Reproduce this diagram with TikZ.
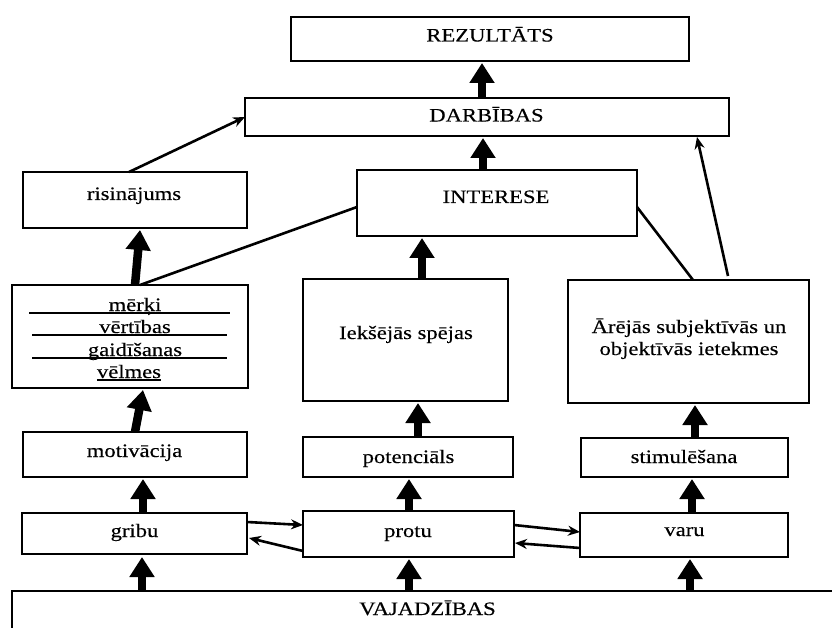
\documentclass[tikz,border=0pt]{standalone}
\usepackage{fontspec}
\setmainfont{Liberation Serif}[FakeStretch=1.19,FakeBold=0.3]
\usetikzlibrary{arrows.meta}
\begin{document}
\begin{tikzpicture}[x=1pt,y=-1pt,
  box/.style={draw, line width=2.6pt, inner sep=0pt, outer sep=0pt},
  lbl/.style={inner sep=0pt, outer sep=0pt, anchor=base, font=\fontsize{19}{22}\selectfont},
  big/.style={line width=8.5pt, -{Triangle[width=24pt,length=20pt]}},
  link/.style={line width=2.6pt},
  linkarrow/.style={line width=2.6pt, -{Stealth[length=12pt,width=10pt]}},
  rule/.style={line width=1.8pt},
]
\useasboundingbox (0,0) rectangle (832,628);
\clip (0,0) rectangle (832,628);

% boxes
\node[box, minimum width=398pt, minimum height=44pt]  (rez) at (490,39) {};
\node[box, minimum width=484pt, minimum height=38pt]  (dar) at (487,117) {};
\node[box, minimum width=224pt, minimum height=56pt]  (ris) at (135,200) {};
\node[box, minimum width=280pt, minimum height=66pt]  (int) at (497,203) {};
\node[box, minimum width=236pt, minimum height=103pt] (mer) at (130,336.5) {};
\node[box, minimum width=205pt, minimum height=122pt] (iek) at (405.5,340) {};
\node[box, minimum width=241pt, minimum height=123pt] (are) at (688.5,341.5) {};
\node[box, minimum width=224pt, minimum height=45pt]  (mot) at (135,454.5) {};
\node[box, minimum width=210pt, minimum height=40pt]  (pot) at (408,457) {};
\node[box, minimum width=207pt, minimum height=39pt]  (sti) at (684.5,457.5) {};
\node[box, minimum width=225pt, minimum height=41pt]  (gri) at (134.5,533.5) {};
\node[box, minimum width=211pt, minimum height=46pt]  (pro) at (408.5,534) {};
\node[box, minimum width=208pt, minimum height=44pt]  (var) at (684,535) {};
\node[box, minimum width=838pt, minimum height=69pt]  (vaj) at (431,625.5) {};

% labels
\node[lbl] (rez-t) at (490,41.5) {REZULTĀTS};
\node[lbl] (dar-t) at (486.5,121.5) {DARBĪBAS};
\node[lbl] (ris-t) at (134,200) {risinājums};
\node[lbl] (int-t) at (496,203) {INTERESE};
\node[lbl] (iek-t) at (406,339) {Iekšējās spējas};
\node[lbl] (are-t1) at (689,333) {Ārējās subjektīvās un};
\node[lbl] (are-t2) at (689,355) {objektīvās ietekmes};
\node[lbl] (mot-t) at (134.5,457) {motivācija};
\node[lbl] (pot-t) at (408.5,463) {potenciāls};
\node[lbl] (sti-t) at (684,463) {stimulēšana};
\node[lbl] (gri-t) at (134.5,537) {gribu};
\node[lbl] (pro-t) at (408,537) {protu};
\node[lbl] (var-t) at (684.5,536) {varu};
\node[lbl] (vaj-t) at (427.5,615) {VAJADZĪBAS};

% ruled list inside the goals box
\node[lbl] (m1) at (135,311) {mērķi};
\node[lbl] (m2) at (135,333) {vērtības};
\node[lbl] (m3) at (135,356) {gaidīšanas};
\node[lbl] (m4) at (129,378) {vēlmes};
\draw[rule] ([xshift=17pt,yshift=-28pt]mer.north west) -- ++(201,0);
\draw[rule] ([xshift=20pt,yshift=-50pt]mer.north west) -- ++(195,0);
\draw[rule] ([xshift=20pt,yshift=-73pt]mer.north west) -- ++(195,0);
\draw[rule] ([yshift=-2pt]m4.base west) -- ([yshift=-2pt]m4.base east);

% thick upward arrows
\coordinate (a1) at ([xshift=7.5pt,yshift=-3pt]gri.south);
\draw[big] (a1 |- vaj.north) -- (a1);
\coordinate (a2) at ([xshift=0.5pt,yshift=-2pt]pro.south);
\draw[big] (a2 |- vaj.north) -- (a2);
\coordinate (a3) at ([xshift=6pt,yshift=-2pt]var.south);
\draw[big] (a3 |- vaj.north) -- (a3);
\coordinate (a4) at ([xshift=8pt,yshift=-2pt]mot.south);
\draw[big] (a4 |- gri.north) -- (a4);
\coordinate (a5) at ([xshift=1pt,yshift=-2pt]pot.south);
\draw[big] (a5 |- pro.north) -- (a5);
\coordinate (a6) at ([xshift=7.5pt,yshift=-2pt]sti.south);
\draw[big] (a6 |- var.north) -- (a6);
\draw[big] (mot.north) -- ([xshift=13pt,yshift=-2pt]mer.south);
\coordinate (a8) at ([xshift=12.5pt,yshift=-2pt]iek.south);
\draw[big] (a8 |- pot.north) -- (a8);
\coordinate (a9) at ([xshift=6.5pt,yshift=-2pt]are.south);
\draw[big] (a9 |- sti.north) -- (a9);
\draw[big] ([xshift=5pt]mer.north) -- ([xshift=5pt,yshift=-2pt]ris.south);
\coordinate (a11) at ([xshift=-75pt,yshift=-2pt]int.south);
\draw[big] (a11 |- iek.north) -- (a11);
\coordinate (a12) at ([xshift=-4pt,yshift=-2pt]dar.south);
\draw[big] (a12 |- int.north) -- (a12);
\coordinate (a13) at ([xshift=-8pt,yshift=-2pt]rez.south);
\draw[big] (a13 |- dar.north) -- (a13);

% thin connectors
\draw[linkarrow] ([yshift=11.5pt]gri.east) -- ([yshift=9pt]pro.west);
\draw[linkarrow] ([yshift=-17pt]pro.west) -- ([xshift=2pt,yshift=-4.5pt]gri.east);
\draw[linkarrow] ([yshift=9pt]pro.east) -- ([yshift=3pt]var.west);
\draw[linkarrow] ([yshift=-13pt]var.west) -- ([xshift=1pt,yshift=-9pt]pro.east);
\draw[linkarrow] ([xshift=-6pt]ris.north) -- (dar.west);
\draw[linkarrow] ([xshift=39.5pt,yshift=4pt]are.north) -- ([xshift=210pt,yshift=-1pt]dar.south);
\draw[link] ([xshift=10pt]mer.north) -- ([yshift=-4pt]int.west);
\draw[link] ([yshift=-4pt]int.east) -- ([xshift=4.5pt]are.north);
\end{tikzpicture}
\end{document}
